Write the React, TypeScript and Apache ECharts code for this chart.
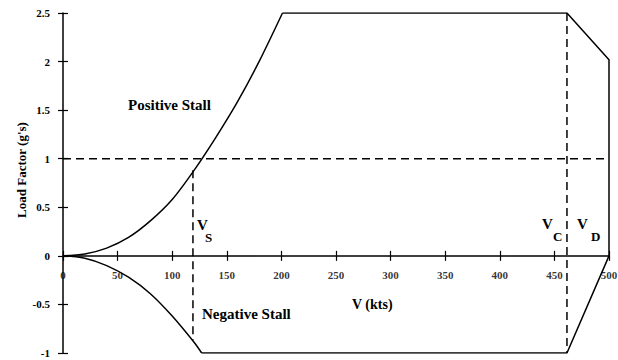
import React, { useEffect, useRef } from "react";
import * as echarts from "echarts";

// Data
const xTickValues = [0, 50, 100, 150, 200, 250, 300, 350, 400, 450, 500];
const posStallV = [0, 20, 40, 60, 80, 100, 120, 140, 160, 180, 201];
const posStallN = [0, 0.02, 0.08, 0.19, 0.36, 0.58, 0.88, 1.22, 1.59, 2.01, 2.5];
const negStallV = [0, 20, 40, 60, 80, 100, 120, 127];
const negStallN = [0, -0.025, -0.1, -0.22, -0.39, -0.62, -0.89, -1];
const envelopeV = [201, 461.5, 500, 500, 461.5, 127];
const envelopeN = [2.5, 2.5, 2.02, 0, -1, -1];
const gLineV = [0, 500];
const gLineN = [1, 1];
const vsLineV = [119, 119];
const vsLineN = [0.88, -0.87];
const vcLineV = [461.5, 461.5];
const vcLineN = [2.5, -1];

const FONT = '"Liberation Serif", "Times New Roman", serif';

const zip = (a: number[], b: number[]) => a.map((v, i) => [v, b[i]]);

export default function App() {
  const ref = useRef<HTMLDivElement>(null);
  useEffect(() => {
    if (!ref.current) return;
    const chart = echarts.init(ref.current, undefined, { renderer: "svg" });
    const axisColor = "#000";
    const labelStyle = {
      color: "#000",
      fontFamily: FONT,
      fontWeight: "bold" as const,
      fontSize: 11,
    };
    const solid = (name: string, v: number[], n: number[], smooth: boolean) => ({
      name,
      type: "line",
      xAxisIndex: 0,
      yAxisIndex: 0,
      data: zip(v, n),
      smooth: smooth ? 0.3 : false,
      symbol: "none",
      lineStyle: { color: "#000", width: 1.5 },
      silent: true,
    });
    const dashed = (name: string, v: number[], n: number[]) => ({
      name,
      type: "line",
      xAxisIndex: 0,
      yAxisIndex: 0,
      data: zip(v, n),
      symbol: "none",
      lineStyle: { color: "#000", width: 1.5, type: [8, 5] },
      silent: true,
    });
    const textEl = (text: string, x: number, y: number, size: number, extra: any = {}) => ({
      type: "text",
      x,
      y,
      ...extra,
      style: {
        text,
        fill: "#000",
        fontFamily: FONT,
        fontWeight: "bold",
        fontSize: size,
        verticalAlign: "middle",
        ...(extra.style || {}),
      },
    });
    const tickAxisY = (pos: string, idx: number, showLine: boolean) => ({
      type: "value",
      min: -1,
      max: 2.5,
      interval: 0.5,
      position: pos,
      axisLine: {
        show: showLine,
        onZero: true,
        onZeroAxisIndex: idx,
        lineStyle: { color: axisColor, width: 1.5 },
      },
      axisTick: { show: true, length: 5, lineStyle: { color: axisColor, width: 1.2 } },
      axisLabel: showLine ? { ...labelStyle, margin: 13 } : { show: false },
      splitLine: { show: false },
    });
    const tickAxisX = (pos: string, idx: number, showLine: boolean) => ({
      type: "value",
      min: 0,
      max: 500,
      interval: 50,
      position: pos,
      axisLine: {
        show: showLine,
        onZero: true,
        onZeroAxisIndex: idx,
        lineStyle: { color: axisColor, width: 1.5 },
      },
      axisTick: { show: true, length: 5, lineStyle: { color: axisColor, width: 1.2 } },
      axisLabel: { show: false },
      splitLine: { show: false },
    });
    chart.setOption({
      animation: false,
      backgroundColor: "#fff",
      grid: {
        left: 63,
        right: 9,
        top: 13,
        bottom: 7,
        containLabel: false,
        outerBoundsMode: "none",
      },
      xAxis: [tickAxisX("bottom", 0, true), tickAxisX("top", 1, false)],
      yAxis: [tickAxisY("left", 0, true), tickAxisY("right", 1, false)],
      series: [
        solid("Positive Stall", posStallV, posStallN, true),
        solid("Negative Stall", negStallV, negStallN, true),
        solid("Envelope", envelopeV, envelopeN, false),
        dashed("n = 1", gLineV, gLineN),
        dashed("Vs", vsLineV, vsLineN),
        dashed("Vc", vcLineV, vcLineN),
        {
          name: "x tick labels",
          type: "scatter",
          xAxisIndex: 0,
          yAxisIndex: 0,
          data: xTickValues.map((v) => [v, 0]),
          symbolSize: 0,
          silent: true,
          label: {
            show: true,
            position: "bottom",
            distance: 14,
            formatter: (p: any) => String(p.value[0]),
            ...labelStyle,
          },
        },
      ],
      graphic: [
        textEl("Load Factor (g's)", 21, 170, 13, {
          rotation: Math.PI / 2,
          style: { align: "center" },
        }),
        textEl("Positive Stall", 128, 105, 15),
        textEl("Negative Stall", 202, 314, 15),
        textEl("V (kts)", 352, 304, 14),
        textEl("V", 197, 225, 15),
        textEl("S", 205, 237, 13),
        textEl("V", 542, 224, 15),
        textEl("C", 553, 236, 13),
        textEl("V", 577, 224, 15),
        textEl("D", 591, 236, 13),
      ],
    });
    return () => chart.dispose();
  }, []);
  return (
    <div
      ref={ref}
      style={{ position: "fixed", left: 0, top: 0, width: 618, height: 360, background: "#fff" }}
    />
  );
}
